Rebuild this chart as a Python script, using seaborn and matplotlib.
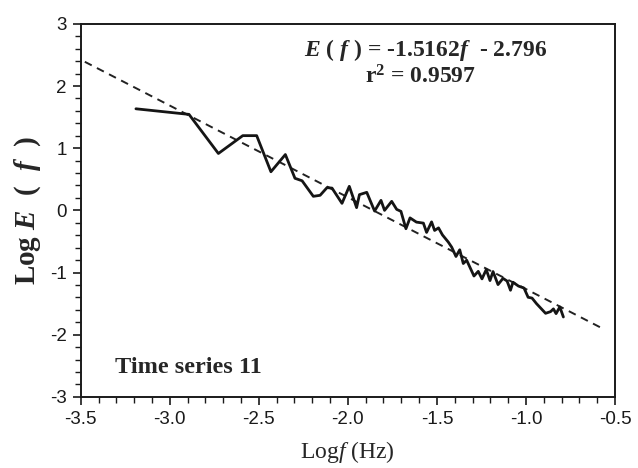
import matplotlib
matplotlib.use('Agg')
import matplotlib.pyplot as plt
import seaborn as sns
import pandas as pd
from matplotlib.ticker import MultipleLocator

# traced spectrum (log f vs log E(f))
log_f = [-3.190, -2.892, -2.727, -2.590, -2.512, -2.432, -2.351, -2.297, -2.257, -2.194,
         -2.156, -2.117, -2.089, -2.033, -1.992, -1.951, -1.935, -1.894, -1.850, -1.814,
         -1.794, -1.754, -1.726, -1.702, -1.674, -1.651, -1.615, -1.576, -1.558, -1.530,
         -1.513, -1.491, -1.469, -1.436, -1.417, -1.393, -1.372, -1.352, -1.333, -1.292,
         -1.268, -1.247, -1.223, -1.202, -1.185, -1.157, -1.129, -1.106, -1.087, -1.073,
         -1.042, -1.011, -0.988, -0.966, -0.941, -0.890, -0.862, -0.846, -0.831, -0.810,
         -0.790]
log_E = [1.634, 1.544, 0.915, 1.202, 1.202, 0.621, 0.898, 0.516, 0.476, 0.226,
         0.242, 0.366, 0.358, 0.113, 0.387, 0.044, 0.253, 0.290, -0.011, 0.161,
         0.000, 0.145, 0.016, -0.016, -0.295, -0.121, -0.189, -0.205, -0.355, -0.185,
         -0.323, -0.282, -0.395, -0.511, -0.592, -0.742, -0.634, -0.855, -0.802, -1.056,
         -0.981, -1.102, -0.952, -1.129, -0.984, -1.194, -1.094, -1.137, -1.285, -1.156,
         -1.218, -1.250, -1.398, -1.411, -1.500, -1.656, -1.629, -1.585, -1.661, -1.553,
         -1.715]

# regression line as drawn in the figure (end points)
fit_x = [-3.477, -0.584]
fit_y = [2.39, -1.88]

eq_text = r"$\mathbfit{E}$ ( $\mathbfit{f}$ ) = -1.5162$\mathbfit{f}$  - 2.796"
r2_text = r"r$^{\mathbf{2}}$ = 0.9597"
series_label = "Time series 11"

df = pd.DataFrame({'logf': log_f, 'logE': log_E})
df_fit = pd.DataFrame({'logf': fit_x, 'logE': fit_y})

sns.set_theme(style='white')
plt.rcParams['font.family'] = ['Liberation Sans', 'DejaVu Sans']
plt.rcParams['axes.unicode_minus'] = False
plt.rcParams['mathtext.fontset'] = 'custom'
plt.rcParams['mathtext.rm'] = 'Liberation Serif'
plt.rcParams['mathtext.it'] = 'Liberation Serif:italic'
plt.rcParams['mathtext.bf'] = 'Liberation Serif:bold'
plt.rcParams['mathtext.bfit'] = 'Liberation Serif:italic:bold'

fig, ax = plt.subplots(figsize=(6.38, 4.68), dpi=100)
fig.subplots_adjust(left=0.1265, right=0.964, bottom=0.152, top=0.949)

sns.lineplot(x='logf', y='logE', data=df_fit, color='#222222', linewidth=1.4,
             linestyle=(0, (4, 3)), sort=False, ax=ax)
sns.lineplot(x='logf', y='logE', data=df, color='#151515', linewidth=2.0,
             sort=False, ax=ax)

ax.set_xlim(-3.5, -0.5)
ax.set_ylim(-3, 3)
ax.xaxis.set_major_locator(MultipleLocator(0.5))
ax.xaxis.set_minor_locator(MultipleLocator(0.1))
ax.yaxis.set_major_locator(MultipleLocator(1))
ax.yaxis.set_minor_locator(MultipleLocator(0.2))
ax.set_xticklabels([f"{v:.1f}" for v in ax.get_xticks()])
ax.tick_params(which='major', direction='out', length=6, width=1.2, colors='#1a1a1a',
               labelsize=13.5, bottom=True, left=True, top=False, right=False, pad=4)
ax.tick_params(which='minor', direction='out', length=4, width=1.0, colors='#1a1a1a',
               bottom=True, left=True, top=False, right=False)
for s in ax.spines.values():
    s.set_color('#1a1a1a')
    s.set_linewidth(1.4)

ax.set_xlabel(r"Log$\mathit{f}$ (Hz)", family='Liberation Serif', fontsize=17, labelpad=8)
ax.set_ylabel(r"Log $\mathbfit{E}$  (  $\mathbfit{f}$  )", family='Liberation Serif',
              fontweight='bold', fontsize=21, labelpad=5)

ax.text(0.645, 0.93, eq_text, transform=ax.transAxes, ha='center', va='center',
        family='Liberation Serif', fontweight='bold', fontsize=17)
ax.text(0.635, 0.858, r2_text, transform=ax.transAxes, ha='center', va='center',
        family='Liberation Serif', fontweight='bold', fontsize=17)
ax.text(0.064, 0.078, series_label, transform=ax.transAxes, ha='left', va='center',
        family='Liberation Serif', fontweight='bold', fontsize=17.5)

plt.savefig('out.png', dpi=100)
plt.close()
